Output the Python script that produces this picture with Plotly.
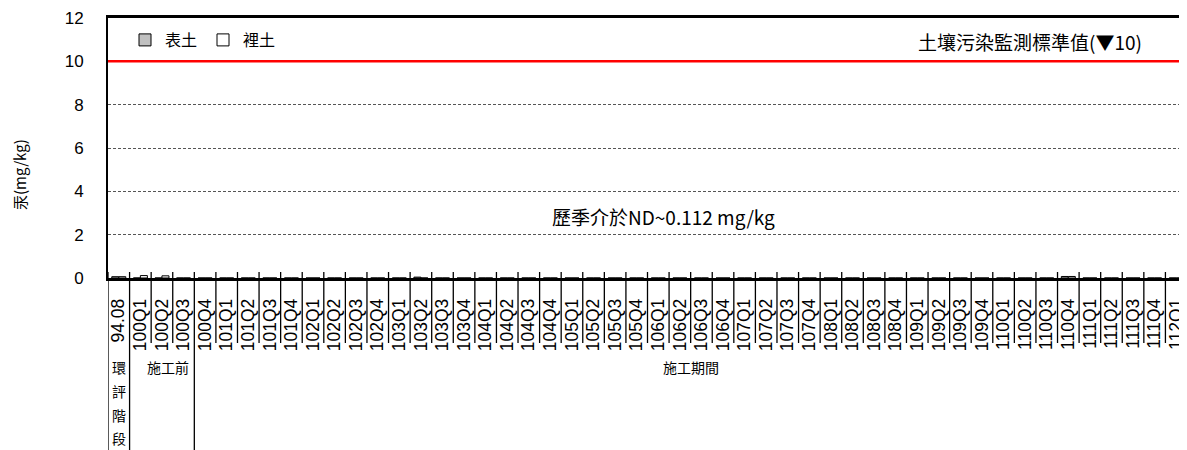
import plotly.graph_objects as go

# ---- data ----
categories = ["94.08", "100Q1", "100Q2", "100Q3", "100Q4"] + \
    [f"{y}Q{q}" for y in range(101, 112) for q in range(1, 5)] + ["112Q1"]

surface_vals = [0.0] * len(categories)      # 表土
subsurface_vals = [0.0] * len(categories)   # 裡土
surface_pts = {"94.08": 0.06, "103Q2": 0.04, "110Q4": 0.07}
subsurface_pts = {"94.08": 0.06, "100Q1": 0.112, "100Q2": 0.10, "110Q4": 0.07}
for k, v in surface_pts.items():
    surface_vals[categories.index(k)] = v
for k, v in subsurface_pts.items():
    subsurface_vals[categories.index(k)] = v

standard_value = 10
y_ticks = [0, 2, 4, 6, 8, 10, 12]

CJK = "Noto Sans CJK TC, Liberation Sans, Arial, sans-serif"
LAT = "Liberation Sans, Arial, sans-serif"

fig = go.Figure()
fig.add_trace(go.Bar(x=categories, y=surface_vals, name="表土",
                     marker=dict(color="#c0c0c0", line=dict(color="black", width=1))))
fig.add_trace(go.Bar(x=categories, y=subsurface_vals, name="裡土",
                     marker=dict(color="white", line=dict(color="black", width=1))))

OFF = 8  # page body margin
W, H = 1187 - OFF, 450 - OFF
PL, PT, PB = 108, 18, 278          # plot area in screen pixels
L, T = PL - OFF, PT - OFF
plot_h = PB - PT
plot_w = 1187 - PL
B = H - T - plot_h
R = W - L - plot_w


def px(xs):
    return (xs - PL) / plot_w


def py(ys):
    return (PB - ys) / plot_h


fig.update_layout(
    width=W, height=H,
    margin=dict(l=L, r=R, t=T, b=B, autoexpand=False),
    paper_bgcolor="white", plot_bgcolor="white",
    barmode="group", bargap=0.35, bargroupgap=0,
    font=dict(family=LAT, size=16, color="black"),
    showlegend=True,
    legend=dict(orientation="h", x=px(125), y=py(40),
                xanchor="left", yanchor="middle",
                font=dict(family=CJK, size=16), bgcolor="rgba(0,0,0,0)",
                itemwidth=30, tracegroupgap=0, entrywidth=33),
)

fig.update_xaxes(
    type="category", categoryorder="array", categoryarray=categories,
    range=[-0.5, len(categories) - 0.5],
    tickangle=-90, ticks="", tickfont=dict(family=LAT, size=17.5),
    ticklabelstandoff=11, automargin=False,
    showline=True, linecolor="black", linewidth=2.5, mirror=True,
    showgrid=False, zeroline=False, fixedrange=True,
)
fig.update_yaxes(
    range=[0, 12], tickvals=y_ticks, ticks="", tickfont=dict(family=LAT, size=17),
    ticklabelstandoff=19, automargin=False,
    showline=True, linecolor="black", linewidth=2,
    showgrid=True, gridcolor="#555555", gridwidth=1, griddash="3px,2px",
    zeroline=False, fixedrange=True,
)

shapes = []
shapes.append(dict(type="line", xref="paper", yref="y", x0=0, x1=1,
                   y0=standard_value, y1=standard_value,
                   line=dict(color="#ff0000", width=2.5)))
group_bounds = {-0.5, 0.5, 3.5}
for i in range(len(categories) + 1):
    xb = i - 0.5
    y_bottom = py(452) if xb in group_bounds else py(343)
    shapes.append(dict(type="line", xref="x", yref="paper", x0=xb, x1=xb,
                       y0=py(272), y1=y_bottom,
                       line=dict(color="black", width=1.3), layer="above"))
fig.update_layout(shapes=shapes)

ann = []
for ch, yc in zip("環評階段", [367, 391, 415, 438]):
    ann.append(dict(xref="x", yref="paper", x=0, y=py(yc), text=ch, showarrow=False,
                    yanchor="middle", font=dict(family=CJK, size=14)))
ann.append(dict(xref="x", yref="paper", x=2.3, y=py(367),
                text="施工前", showarrow=False, yanchor="middle",
                font=dict(family=CJK, size=14)))
ann.append(dict(xref="x", yref="paper", x=26.5, y=py(367),
                text="施工期間", showarrow=False, yanchor="middle",
                font=dict(family=CJK, size=14)))
ann.append(dict(xref="paper", yref="paper", x=px(1144), y=py(41),
                text="土壤污染監測標準值(▼10)", showarrow=False, xanchor="right",
                yanchor="middle", font=dict(family=CJK, size=19)))
ann.append(dict(xref="paper", yref="paper", x=px(663), y=py(216),
                text="歷季介於ND~0.112 mg/kg", showarrow=False, xanchor="center",
                yanchor="middle", font=dict(family=CJK, size=19)))
ann.append(dict(xref="paper", yref="paper", x=px(19), y=py(175),
                text="汞(mg/kg)", showarrow=False, textangle=-90, xanchor="center",
                yanchor="middle", font=dict(family=CJK, size=15)))
fig.update_layout(annotations=ann)

fig.write_html("out.html")
